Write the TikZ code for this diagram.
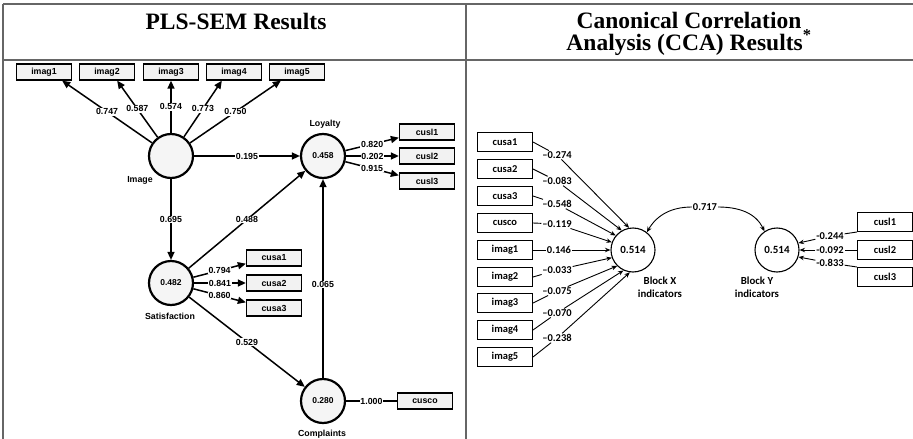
\documentclass[tikz,border=0pt]{standalone}
\usepackage{fontspec}
\setmainfont{Liberation Serif}
\newfontfamily\arialf{Liberation Sans}
\newfontfamily\calib{Carlito}
\usetikzlibrary{arrows.meta,calc}
\begin{document}
\begin{tikzpicture}[x=1pt,y=-1pt,
  rule/.style={draw=black!60, line width=1.8pt},
  ttl/.style={font=\bfseries\fontsize{23.5}{21}\selectfont, align=center},
  lv/.style={circle, draw, line width=2.2pt, fill=black!4, minimum size=44pt, inner sep=0pt, font=\arialf\bfseries\fontsize{8.5}{9}\selectfont},
  ind/.style={rectangle, draw, line width=1.3pt, fill=black!5, minimum width=55pt, minimum height=16pt, inner sep=0pt, font=\arialf\bfseries\fontsize{8.8}{9}\selectfont},
  lbl/.style={fill=white, inner sep=0.8pt, font=\arialf\bfseries\fontsize{8.8}{9}\selectfont},
  nm/.style={font=\arialf\bfseries\fontsize{8.8}{9}\selectfont},
  pa/.style={line width=1.5pt, -{Triangle[length=8pt,width=7pt]}},
  pl/.style={line width=1.5pt},
  rv/.style={circle, draw, line width=1.1pt, fill=white, minimum size=44pt, inner sep=0pt, font=\calib\bfseries\fontsize{11}{12}\selectfont},
  rbox/.style={rectangle, draw, line width=1pt, fill=white, minimum width=55pt, minimum height=19pt, inner sep=0pt, font=\calib\bfseries\fontsize{10.5}{11}\selectfont},
  rlbl/.style={fill=white, inner sep=0.8pt, font=\calib\bfseries\fontsize{10.5}{11}\selectfont},
  rnm/.style={font=\calib\bfseries\fontsize{10.8}{13}\selectfont, align=center},
  ra/.style={line width=0.9pt, -{Stealth[length=5.5pt,width=4.5pt]}},
  rl/.style={line width=0.9pt}
]
\useasboundingbox (0,0) rectangle (913,439);
% table rules
\draw[rule] (3,4) -- (913,4);
\draw[rule] (3,60) -- (913,60);
\draw[rule] (3,4) -- (3,439);
\draw[rule] (466,4) -- (466,439);
% titles
\node[ttl, anchor=base] (t1) at (236,29) {PLS-SEM Results};
\node[ttl, anchor=base] (t2a) at (689,28) {Canonical Correlation};
\node[ttl, anchor=base] (t2b) at (689,50) {Analysis (CCA) Results\textsuperscript{*}};

% ---------- left panel ----------
\node[lv] (img) at (171,156) {};
\node[nm] (imgn) at (140,180) {Image};
\node[lv] (loy) at (323,156) {0.458};
\node[nm] (loyn) at (325,124) {Loyalty};
\node[lv] (sat) at (171,283) {0.482};
\node[nm] (satn) at (170,316) {Satisfaction};
\node[lv] (com) at (323,401) {0.280};
\node[nm] (comn) at (322,434) {Complaints};

\node[ind] (im1) at (44,72) {imag1};
\node[ind] (im2) at (107,72) {imag2};
\node[ind] (im3) at (171,72) {imag3};
\node[ind] (im4) at (234,72) {imag4};
\node[ind] (im5) at (297,72) {imag5};
\node[ind] (cl1) at (427,132) {cusl1};
\node[ind] (cl2) at (427,156) {cusl2};
\node[ind] (cl3) at (427,181) {cusl3};
\node[ind] (ca1) at (274,258) {cusa1};
\node[ind] (ca2) at (274,283) {cusa2};
\node[ind] (ca3) at (274,308) {cusa3};
\node[ind] (cco) at (425,401) {cusco};

\coordinate (e1) at ($(im1.south east)+(-10,0)$);
\coordinate (e2) at ($(im2.south east)+(-18,0)$);
\coordinate (e4) at ($(im4.south west)+(16,0)$);
\coordinate (e5) at ($(im5.south west)+(12,0)$);
\draw[pa] (img) -- node[lbl,pos=0.5] (l1) {0.747} (e1);
\draw[pa] (img) -- node[lbl,pos=0.5] (l2) {0.587} (e2);
\draw[pa] (img) -- node[lbl,pos=0.5] (l3) {0.574} (im3.south);
\draw[pa] (img) -- node[lbl,pos=0.5] (l4) {0.773} (e4);
\draw[pa] (img) -- node[lbl,pos=0.5] (l5) {0.750} (e5);

\draw[pa] (img) -- node[lbl] (l6) {0.195} (loy);
\draw[pa] (img) -- node[lbl] (l7) {0.695} (sat);
\draw[pa] (sat) -- node[lbl] (l8) {0.488} (loy);
\draw[pa] (sat) -- node[lbl] (l9) {0.529} (com);
\draw[pa] (com) -- node[lbl,pos=0.47] (l10) {0.065} (loy);
\draw[pl] (com) -- node[lbl] (l11) {1.000} (cco);

\coordinate (f1) at ($(cl1.south west)+(0,-3)$);
\coordinate (f3) at ($(cl3.north west)+(0,3)$);
\draw[pa] (loy) -- node[lbl] (l12) {0.820} (f1);
\draw[pa] (loy) -- node[lbl] (l13) {0.202} (cl2.west);
\draw[pa] (loy) -- node[lbl] (l14) {0.915} (f3);

\coordinate (g1) at ($(ca1.south west)+(0,-3)$);
\coordinate (g3) at ($(ca3.north west)+(0,3)$);
\draw[pa] (sat) -- node[lbl] (l15) {0.794} (g1);
\draw[pa] (sat) -- node[lbl] (l16) {0.841} (ca2.west);
\draw[pa] (sat) -- node[lbl] (l17) {0.860} (g3);

% ---------- right panel ----------
\node[rv] (bx) at (633,250) {0.514};
\node[rnm] (bxn) at (660,287) {Block X\\indicators};
\node[rv] (by) at (777,250) {0.514};
\node[rnm] (byn) at (757,287) {Block Y\\indicators};

\node[rbox] (r1) at (505,142) {cusa1};
\node[rbox] (r2) at (505,169) {cusa2};
\node[rbox] (r3) at (505,196) {cusa3};
\node[rbox] (r4) at (505,223) {cusco};
\node[rbox] (r5) at (505,250) {imag1};
\node[rbox] (r6) at (505,277) {imag2};
\node[rbox] (r7) at (505,303) {imag3};
\node[rbox] (r8) at (505,330) {imag4};
\node[rbox] (r9) at (505,357) {imag5};

\node[rlbl] (q1) at (557,155) {–0.274};
\node[rlbl] (q2) at (557,181) {–0.083};
\node[rlbl] (q3) at (557,204) {–0.548};
\node[rlbl] (q4) at (557,224) {–0.119};
\node[rlbl] (q5) at (559,250) {0.146};
\node[rlbl] (q6) at (557,270) {–0.033};
\node[rlbl] (q7) at (557,291) {–0.075};
\node[rlbl] (q8) at (557,313) {–0.070};
\node[rlbl] (q9) at (557,338) {–0.238};

\draw[rl] (r1.east) -- (q1); \draw[ra] (q1) -- (bx.100);
\draw[rl] (r2.east) -- (q2); \draw[ra] (q2) -- (bx.120);
\draw[rl] (r3.east) -- (q3); \draw[ra] (q3) -- (bx.140);
\draw[rl] (r4.east) -- (q4); \draw[ra] (q4) -- (bx.160);
\draw[rl] (r5.east) -- (q5); \draw[ra] (q5) -- (bx.180);
\draw[rl] (r6.east) -- (q6); \draw[ra] (q6) -- (bx.200);
\draw[rl] (r7.east) -- (q7); \draw[ra] (q7) -- (bx.225);
\draw[rl] (r8.east) -- (q8); \draw[ra] (q8) -- (bx.245);
\draw[rl] (r9.east) -- (q9); \draw[ra] (q9) -- (bx.262);

\node[rbox] (s1) at (885,222) {cusl1};
\node[rbox] (s2) at (885,250) {cusl2};
\node[rbox] (s3) at (885,277) {cusl3};
\node[rlbl] (p1) at (830,236) {-0.244};
\node[rlbl] (p2) at (830,250) {-0.092};
\node[rlbl] (p3) at (830,263) {-0.833};
\draw[rl] (s1.south west) -- (p1); \draw[ra] (p1) -- (by.18);
\draw[rl] (s2.west) -- (p2); \draw[ra] (p2) -- (by.0);
\draw[rl] (s3.north west) -- (p3); \draw[ra] (p3) -- (by.-18);

\node[rlbl] (cc) at (705,207) {0.717};
\draw[ra] (cc) to[out=180,in=60] (bx.52);
\draw[ra] (cc) to[out=0,in=115] (by.124);
\end{tikzpicture}
\end{document}
